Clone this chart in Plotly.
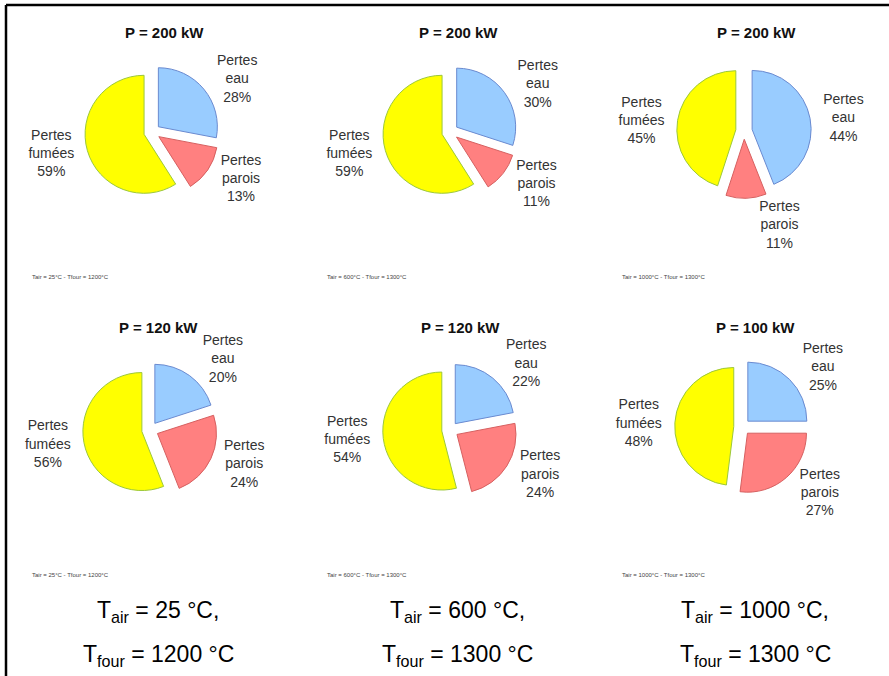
import plotly.graph_objects as go

W, H = 889, 676

categories = ["eau", "parois", "fumées"]
titles = ["P = 200 kW", "P = 200 kW", "P = 200 kW", "P = 120 kW", "P = 120 kW", "P = 100 kW"]
eau = [28, 30, 44, 20, 22, 25]
parois = [13, 11, 11, 24, 24, 27]
fumees = [59, 59, 45, 56, 54, 48]
t_air = [25, 600, 1000]
t_four = [1200, 1300, 1300]

# layout (pixels)
pie_cx = [152, 450, 744, 150, 450, 742]
pie_cy = [132, 132, 131, 430, 430, 427]
radius = 59
pull = 0.14
title_x = [164, 459, 756, 158, 460, 755]
title_y = [32, 32, 32, 327, 327, 327]
note_x = [30, 325, 620, 30, 325, 620]
note_y = [277, 277, 277, 575, 575, 575]
caption_x = [158, 457, 755]

fill = ["#99CCFF", "#FF8080", "#FFFF00"]
edge = ["#6A8AD0", "#D66060", "#9CC83A"]

def px(x):
    return x / W

def py(y):
    return 1 - y / H

fig = go.Figure()
half = radius * (1 + pull)
for i in range(6):
    vals = [eau[i], parois[i], fumees[i]]
    fig.add_trace(go.Pie(
        labels=categories,
        values=vals,
        sort=False,
        direction="clockwise",
        rotation=0,
        pull=[pull] * 3,
        marker=dict(colors=fill, line=dict(color=edge, width=1)),
        texttemplate="Pertes<br>%{label}<br>%{value}%",
        textposition="outside",
        textfont=dict(family="Liberation Sans, Arial", size=14, color="#333333"),
        domain=dict(x=[px(pie_cx[i] - half), px(pie_cx[i] + half)],
                    y=[py(pie_cy[i] + half), py(pie_cy[i] - half)]),
        showlegend=False,
        hoverinfo="label+value",
    ))

annotations = []
for i in range(6):
    annotations.append(dict(
        text="<b>" + titles[i] + "</b>", x=px(title_x[i]), y=py(title_y[i]),
        xref="paper", yref="paper", showarrow=False,
        font=dict(family="Liberation Sans, Arial", size=15, color="#111111"),
        xanchor="center", yanchor="middle"))
    c = i % 3
    annotations.append(dict(
        text=f"Tair = {t_air[c]}°C - Tfour = {t_four[c]}°C", x=px(note_x[i]), y=py(note_y[i]),
        xref="paper", yref="paper", showarrow=False,
        font=dict(family="Liberation Sans, Arial", size=6, color="#444444"),
        xanchor="left", yanchor="middle"))
for c in range(3):
    annotations.append(dict(
        text=f"T<sub>air</sub> = {t_air[c]} °C,", x=px(caption_x[c]), y=py(611),
        xref="paper", yref="paper", showarrow=False,
        font=dict(family="Liberation Sans, Arial", size=23, color="#000000"),
        xanchor="center", yanchor="middle"))
    annotations.append(dict(
        text=f"T<sub>four</sub> = {t_four[c]} °C", x=px(caption_x[c]), y=py(655),
        xref="paper", yref="paper", showarrow=False,
        font=dict(family="Liberation Sans, Arial", size=23, color="#000000"),
        xanchor="center", yanchor="middle"))

shapes = [
    dict(type="line", xref="paper", yref="paper", x0=px(6), y0=py(5), x1=px(889), y1=py(5),
         line=dict(color="black", width=2.5)),
    dict(type="line", xref="paper", yref="paper", x0=px(6), y0=py(5), x1=px(6), y1=py(676),
         line=dict(color="black", width=2.5)),
]

fig.update_layout(
    width=W, height=H,
    margin=dict(l=0, r=0, t=0, b=0),
    paper_bgcolor="white", plot_bgcolor="white",
    annotations=annotations, shapes=shapes,
    showlegend=False,
)
fig.write_html("out.html",
               config={"displayModeBar": False},
               post_script="document.body.style.margin='0';document.body.style.overflow='hidden';")
